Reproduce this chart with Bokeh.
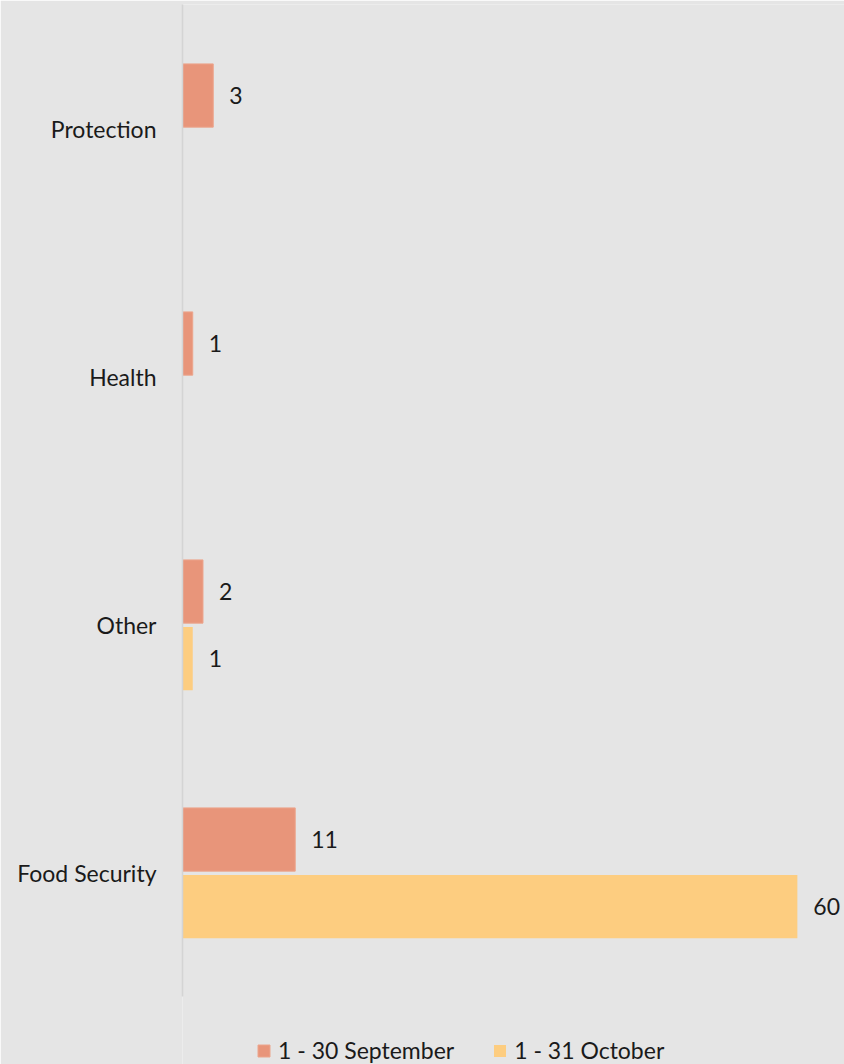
from bokeh.plotting import figure
from bokeh.models import ColumnDataSource, Range1d, Legend, LegendItem, FixedTicker
from bokeh.transform import dodge
from bokeh.core.properties import value
from bokeh.embed import file_html
from bokeh.resources import INLINE

categories = ["Food Security", "Other", "Health", "Protection"]
september = [11, 2, 1, 3]
october = [60, 1, 0, 0]
series_names = ["1 - 30 September", "1 - 31 October"]

FONT = "Lato"
FS = "23px"
BG = "#e5e5e5"
SEP_COLOR = "#e8957a"
OCT_COLOR = "#fdcd80"
TXT = "#1a1a1a"

pos = list(range(len(categories)))
CAT_PX = 248.0
FRAME_H = 1060

p = figure(width=844, height=1064, output_backend="svg", toolbar_location=None,
           y_range=Range1d(len(categories) - 0.5 - FRAME_H / CAT_PX, len(categories) - 0.5),
           x_range=Range1d(0, 64.6))
p.min_border_left = 182
p.min_border_right = 0
p.min_border_top = 4
p.min_border_bottom = 0
p.background_fill_color = BG
p.border_fill_color = BG
p.outline_line_color = None
p.grid.visible = False
p.xaxis.visible = False

yax = p.yaxis[0]
yax.ticker = FixedTicker(ticks=pos)
yax.major_label_overrides = {i: c for i, c in zip(pos, categories)}
yax.bounds = (-0.5, len(categories) - 0.5)
yax.axis_line_color = "#d4d4d4"
yax.axis_line_width = 1.5
yax.major_tick_line_color = None
yax.minor_tick_line_color = None
yax.major_label_standoff = 20
yax.major_label_text_font = FONT
yax.major_label_text_font_size = FS
yax.major_label_text_color = TXT

src = ColumnDataSource(dict(pos=pos, sep=september, oct=october))

SEP_OFF, OCT_OFF = 0.133, -0.138
r_sep = p.hbar(y=dodge("pos", SEP_OFF), right="sep", left=0, height=0.255,
               source=src, fill_color=SEP_COLOR, line_color="#eca58c", line_width=1)
r_oct = p.hbar(y=dodge("pos", OCT_OFF), right="oct", left=0, height=0.255,
               source=src, fill_color=OCT_COLOR, line_color=None)

def label_source(vals):
    c = [i for i, v in zip(pos, vals) if v > 0]
    v = [v for v in vals if v > 0]
    return ColumnDataSource(dict(pos=c, v=v, t=[str(x) for x in v]))

for vals, off in ((september, SEP_OFF), (october, OCT_OFF)):
    ls = label_source(vals)
    p.text(x="v", y=dodge("pos", off), text="t", source=ls,
           x_offset=16, text_align="left", text_baseline="middle",
           text_font=value(FONT), text_font_size=FS, text_color=TXT)

legend = Legend(items=[LegendItem(label=series_names[0], renderers=[r_sep]),
                       LegendItem(label=series_names[1], renderers=[r_oct])],
                orientation="horizontal", location=(74, 0),
                glyph_width=15, glyph_height=15, label_standoff=7, spacing=38,
                padding=0, margin=0,
                label_text_font=FONT, label_text_font_size=FS,
                label_text_color=TXT,
                background_fill_alpha=0, border_line_color=None)
p.add_layout(legend, "center")

open("out.html", "w").write(file_html(p, INLINE))
